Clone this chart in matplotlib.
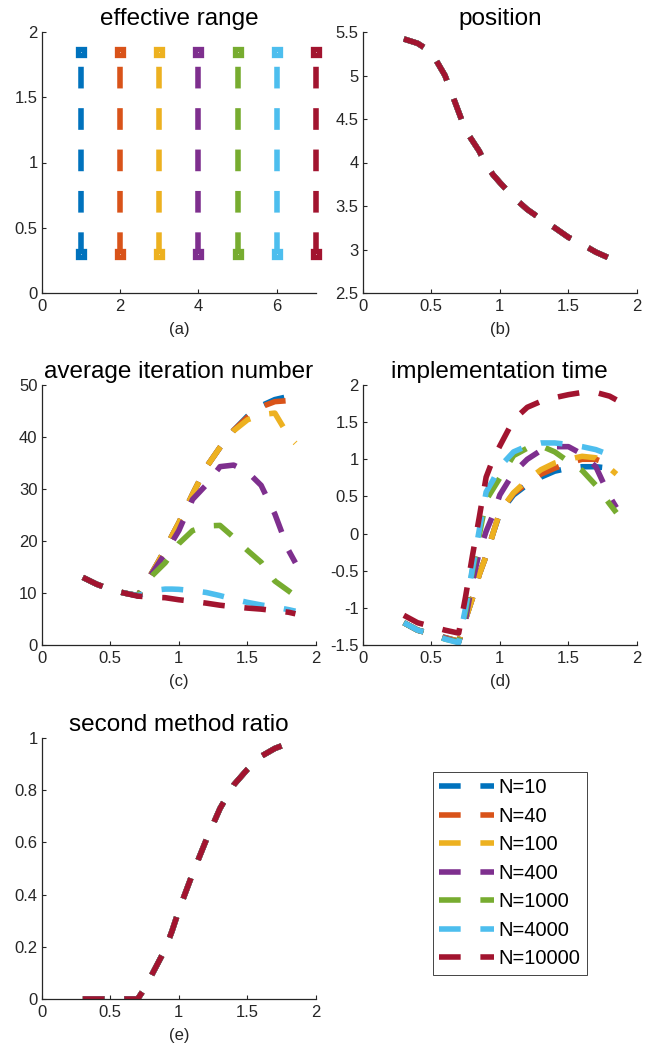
import matplotlib
matplotlib.use("Agg")
import matplotlib.pyplot as plt
from matplotlib.lines import Line2D
from matplotlib.ticker import FuncFormatter

plt.rcParams['font.family'] = ['Liberation Sans', 'DejaVu Sans']
plt.rcParams['lines.scale_dashes'] = False

# ---- data -------------------------------------------------------------
labels = ['N=10', 'N=40', 'N=100', 'N=400', 'N=1000', 'N=4000', 'N=10000']
colors = ['#0072BD', '#D95319', '#EDB120', '#7E2F8E', '#77AC30', '#4DBEEE', '#A2142F']

# (a) effective range of each setting
range_index = [1, 2, 3, 4, 5, 6, 7]
range_low = [0.3, 0.3, 0.3, 0.3, 0.3, 0.3, 0.3]
range_high = [1.85, 1.85, 1.85, 1.85, 1.85, 1.85, 1.85]

# sample grid shared by panels (b)-(e)
x = [0.3, 0.4, 0.5, 0.6, 0.7, 0.75, 0.8, 0.85, 0.9, 0.95,
     1.0, 1.1, 1.2, 1.3, 1.4, 1.5, 1.6, 1.7, 1.8, 1.85]

# (b) position (identical for every N)
position = [5.42, 5.37, 5.27, 5.0, 4.58, 4.37, 4.25, 4.13, 3.97, 3.86,
            3.77, 3.6, 3.46, 3.35, 3.25, 3.14, 3.06, 2.97, 2.9, 2.87]

# (c) average iteration number
iter_n10 = [13.0, 11.7, 10.7, 10.0, 9.5, 11.5, 13.7, 16.0, 18.4, 21.0,
            23.5, 29.0, 34.2, 38.0, 41.3, 44.0, 46.0, 47.2, 47.8, 48.0]
iter_n40 = [13.0, 11.7, 10.7, 10.0, 9.5, 11.5, 13.7, 16.0, 18.4, 21.0,
            23.5, 29.0, 34.2, 38.0, 41.3, 43.8, 45.8, 46.8, 47.0, 47.0]
iter_n100 = [13.0, 11.7, 10.7, 10.0, 9.5, 11.5, 13.7, 16.0, 18.4, 21.0,
             23.5, 29.0, 34.2, 38.0, 41.2, 43.3, 44.3, 44.6, 40.2, 38.8]
iter_n400 = [13.0, 11.7, 10.7, 10.0, 9.5, 11.5, 13.6, 15.6, 17.6, 19.8,
             22.0, 28.0, 30.8, 34.3, 34.6, 33.3, 30.7, 25.2, 18.2, 15.8]
iter_n1000 = [13.0, 11.7, 10.7, 10.0, 9.5, 11.3, 13.2, 14.5, 15.8, 17.6,
              19.5, 22.0, 22.9, 23.0, 20.7, 18.2, 15.9, 12.3, 10.4, 9.4]
iter_n4000 = [13.0, 11.7, 10.7, 10.0, 9.5, 9.9, 10.3, 10.6, 10.75, 10.75,
              10.7, 10.45, 10.1, 9.5, 8.8, 8.2, 7.7, 7.3, 6.8, 6.5]
iter_n10000 = [13.0, 11.7, 10.7, 10.0, 9.4, 9.3, 9.2, 9.15, 9.1, 8.9,
               8.7, 8.4, 8.05, 7.65, 7.35, 7.1, 6.9, 6.6, 6.3, 6.0]

# (d) implementation time
time_n10 = [-1.2, -1.3, -1.35, -1.4, -1.45, -1.15, -0.87, -0.55, -0.3, 0.0,
            0.28, 0.52, 0.66, 0.76, 0.84, 0.88, 0.9, 0.9, 0.88, 0.86]
time_n40 = [-1.2, -1.3, -1.35, -1.4, -1.45, -1.15, -0.87, -0.55, -0.3, 0.0,
            0.29, 0.54, 0.68, 0.8, 0.88, 0.95, 1.0, 1.0, 0.93, 0.88]
time_n100 = [-1.2, -1.3, -1.35, -1.41, -1.45, -1.15, -0.87, -0.55, -0.3, 0.0,
             0.3, 0.55, 0.72, 0.86, 0.95, 1.0, 1.04, 1.02, 0.88, 0.8]
time_n400 = [-1.2, -1.3, -1.35, -1.41, -1.46, -1.15, -0.65, -0.25, 0.03, 0.25,
             0.52, 0.82, 1.0, 1.12, 1.17, 1.17, 1.07, 0.9, 0.5, 0.35]
time_n1000 = [-1.2, -1.3, -1.35, -1.42, -1.46, -1.05, -0.5, -0.02, 0.45, 0.6,
              0.75, 1.05, 1.15, 1.18, 1.1, 0.97, 0.85, 0.65, 0.4, 0.28]
time_n4000 = [-1.2, -1.3, -1.35, -1.42, -1.47, -1.0, -0.47, 0.05, 0.56, 0.72,
              0.9, 1.1, 1.18, 1.22, 1.22, 1.2, 1.17, 1.13, 1.06, 1.02]
time_n10000 = [-1.1, -1.2, -1.25, -1.3, -1.34, -0.85, -0.3, 0.22, 0.76, 1.0,
               1.18, 1.53, 1.7, 1.78, 1.83, 1.87, 1.9, 1.9, 1.85, 1.8]

# (e) second method ratio (identical for every N)
ratio = [0.0, 0.0, 0.0, 0.0, 0.0, 0.04, 0.09, 0.14, 0.19, 0.26,
         0.34, 0.48, 0.61, 0.73, 0.82, 0.88, 0.93, 0.96, 0.98, 0.99]

iterations = [iter_n10, iter_n40, iter_n100, iter_n400, iter_n1000, iter_n4000, iter_n10000]
times = [time_n10, time_n40, time_n100, time_n400, time_n1000, time_n4000, time_n10000]

# ---- styling ------------------------------------------------------------
W, H = 662, 1051
DPI = 100
LW = 4.0
DASH = (0, (15.6, 14.2))
TICK_COLOR = '#262626'
TICK_FS = 12
TITLE_FS = 17.5

fig = plt.figure(figsize=(W / DPI, H / DPI), dpi=DPI)
plain = FuncFormatter(lambda v, pos: '%g' % v)


def make_axes(left, right, top, bottom):
    return fig.add_axes([left / W, 1 - bottom / H, (right - left) / W, (bottom - top) / H])


def style(ax, title, sub):
    for side in ('top', 'right'):
        ax.spines[side].set_visible(False)
    for side in ('left', 'bottom'):
        ax.spines[side].set_color(TICK_COLOR)
        ax.spines[side].set_linewidth(0.9)
    ax.tick_params(direction='in', length=3, width=0.8, color=TICK_COLOR,
                   labelcolor=TICK_COLOR, labelsize=TICK_FS)
    ax.tick_params(axis='x', pad=4)
    ax.tick_params(axis='y', pad=3)
    ax.xaxis.set_major_formatter(plain)
    ax.yaxis.set_major_formatter(plain)
    ax.set_title(title, fontsize=TITLE_FS, pad=5, color='black')
    ax.set_xlabel(sub, fontsize=TICK_FS, color=TICK_COLOR, labelpad=6)


ax_a = make_axes(41.7, 316, 32, 293)
ax_b = make_axes(362.7, 637, 32, 293)
ax_c = make_axes(41.7, 316, 385, 645)
ax_d = make_axes(362.7, 637, 385, 645)
ax_e = make_axes(41.7, 316, 738, 999)

# (a) effective range
for xi, lo, hi, c in zip(range_index, range_low, range_high, colors):
    ax_a.plot([xi, xi], [lo, hi], color=c, lw=LW, linestyle=DASH,
              marker='s', markersize=4.6, markeredgewidth=3.8,
              markerfacecolor='white', markeredgecolor=c, clip_on=False)
ax_a.set_xlim(0, 7)
ax_a.set_ylim(0, 2)
ax_a.set_xticks([0, 2, 4, 6])
ax_a.set_yticks([0, 0.5, 1, 1.5, 2])
style(ax_a, 'effective range', '(a)')

# (b) position
for c in colors:
    ax_b.plot(x, position, color=c, lw=LW, linestyle=DASH)
ax_b.set_xlim(0, 2)
ax_b.set_ylim(2.5, 5.5)
ax_b.set_xticks([0, 0.5, 1, 1.5, 2])
ax_b.set_yticks([2.5, 3, 3.5, 4, 4.5, 5, 5.5])
style(ax_b, 'position', '(b)')

# (c) average iteration number
for ys, c in zip(iterations, colors):
    ax_c.plot(x, ys, color=c, lw=LW, linestyle=DASH)
ax_c.set_xlim(0, 2)
ax_c.set_ylim(0, 50)
ax_c.set_xticks([0, 0.5, 1, 1.5, 2])
ax_c.set_yticks([0, 10, 20, 30, 40, 50])
style(ax_c, 'average iteration number', '(c)')

# (d) implementation time
for ys, c in zip(times, colors):
    ax_d.plot(x, ys, color=c, lw=LW, linestyle=DASH)
ax_d.set_xlim(0, 2)
ax_d.set_ylim(-1.5, 2)
ax_d.set_xticks([0, 0.5, 1, 1.5, 2])
ax_d.set_yticks([-1.5, -1, -0.5, 0, 0.5, 1, 1.5, 2])
style(ax_d, 'implementation time', '(d)')

# (e) second method ratio
for c in colors:
    ax_e.plot(x, ratio, color=c, lw=LW, linestyle=DASH)
ax_e.set_xlim(0, 2)
ax_e.set_ylim(0, 1)
ax_e.set_xticks([0, 0.5, 1, 1.5, 2])
ax_e.set_yticks([0, 0.2, 0.4, 0.6, 0.8, 1])
style(ax_e, 'second method ratio', '(e)')

# legend in the empty sixth slot
handles = [Line2D([], [], color=c, lw=LW, linestyle=DASH) for c in colors]
leg = fig.legend(handles, labels, loc='upper left',
                 bbox_to_anchor=(433 / W, 1 - 772 / H),
                 bbox_transform=fig.transFigure, borderaxespad=0,
                 fontsize=14.5, handlelength=2.7, handletextpad=0.25,
                 labelspacing=0.47, borderpad=0.32, fancybox=False,
                 framealpha=1, edgecolor=TICK_COLOR)
leg.get_frame().set_linewidth(0.6)

fig.savefig('out.png', dpi=DPI)
